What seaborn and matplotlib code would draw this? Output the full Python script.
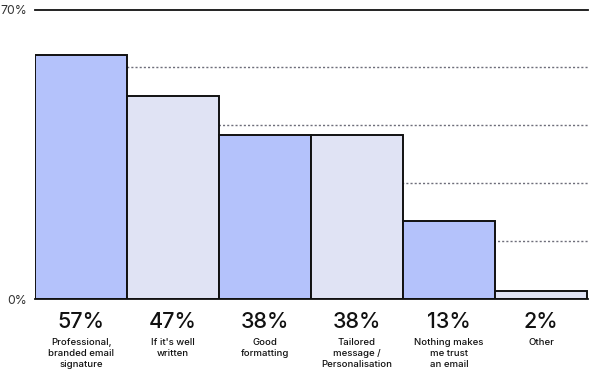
import matplotlib
matplotlib.use("Agg")
import matplotlib.pyplot as plt
import matplotlib.transforms as mtransforms
import seaborn as sns
import pandas as pd

categories = ["Professional,\nbranded email\nsignature", "If it's well\nwritten", "Good\nformatting",
              "Tailored\nmessage /\nPersonalisation", "Nothing makes\nme trust\nan email", "Other"]
bar_values = [59.1, 49.1, 39.6, 39.6, 18.8, 2.0]
pct_labels = ["57%", "47%", "38%", "38%", "13%", "2%"]
grid_levels = [14, 28, 42, 56]
ytick_values = [0, 70]
ytick_labels = ["0%", "70%"]

sns.set_theme(style="white")
plt.rcParams['font.family'] = ['Inter', 'DejaVu Sans']

fig = plt.figure(figsize=(5.89, 3.71), dpi=100)
ax = fig.add_axes([35/589, 1-299/371, 553/589, 289.5/371])

df = pd.DataFrame({"cat": categories, "val": bar_values})
colors = ["#b4c2fb", "#e0e3f4"] * 3
for g in grid_levels:
    ax.axhline(g, color="#6e6e7a", linestyle=(0, (1.5, 1.5)), linewidth=1.0, zorder=0)
sns.barplot(data=df, x="cat", y="val", hue="cat", palette=colors, legend=False, saturation=1,
            width=1.0, edgecolor="#111111", linewidth=1.4, ax=ax, zorder=2)

ax.set_xlim(-0.5, 5.5 + 0.01)
ax.set_ylim(0, 70)
ax.set_yticks(ytick_values)
ax.set_yticklabels(ytick_labels, fontsize=8.8, color="#333333")
ax.tick_params(axis="y", length=0, pad=6)
ax.set_xticks([])
ax.set_xlabel("")
ax.set_ylabel("")
for s in ["left", "right"]:
    ax.spines[s].set_visible(False)
for s in ["top", "bottom"]:
    ax.spines[s].set_visible(True)
    ax.spines[s].set_color("#111111")
    ax.spines[s].set_linewidth(1.3)
    ax.spines[s].set_zorder(3)

trans = mtransforms.blended_transform_factory(ax.transData, ax.transAxes)
for i, (p, c) in enumerate(zip(pct_labels, categories)):
    ax.text(i, -0.08, p, transform=trans, ha="center", va="center", fontsize=15.5,
            fontweight="medium", color="#111111")
    ax.text(i, -0.135, c, transform=trans, ha="center", va="top", fontsize=6.9,
            fontweight="medium", color="#111111", linespacing=1.25)

fig.savefig("out.png", dpi=100)
